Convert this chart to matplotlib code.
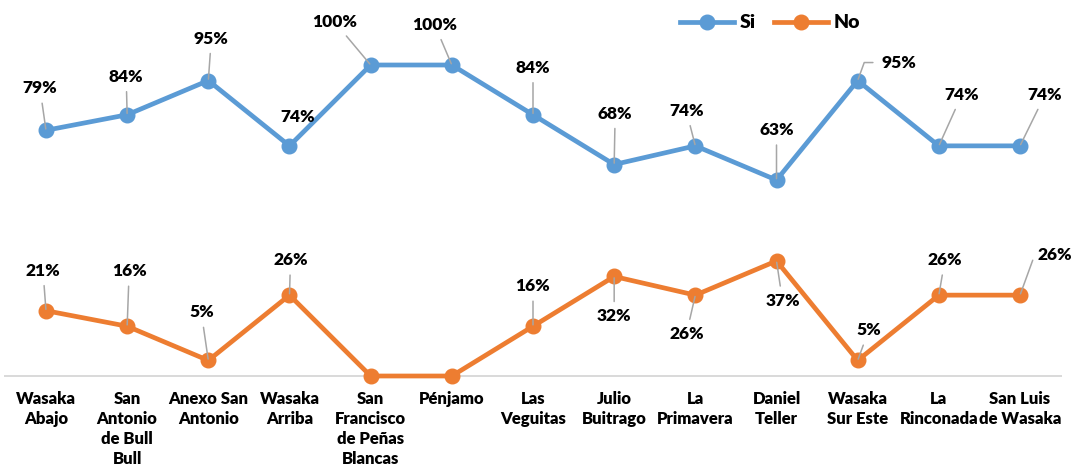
import matplotlib.pyplot as plt
import numpy as np

categorias = ["Wasaka\nAbajo", "San\nAntonio\nde Bull\nBull", "Anexo San\nAntonio", "Wasaka\nArriba",
              "San\nFrancisco\nde Peñas\nBlancas", "Pénjamo", "Las\nVeguitas", "Julio\nBuitrago",
              "La\nPrimavera", "Daniel\nTeller", "Wasaka\nSur Este", "La\nRinconada", "San Luis\nde Wasaka"]
si = [79, 84, 95, 74, 100, 100, 84, 68, 74, 63, 95, 74, 74]
no = [21, 16, 5, 26, 0, 0, 16, 32, 26, 37, 5, 26, 26]

# desplazamiento de las etiquetas en pixeles (dx, dy hacia abajo) y si llevan linea guia
off_si = [(-6, -42, 1), (-1, -38, 1), (3, -42, 1), (8, -29, 0), (-36, -43, 1), (-17, -40, 1), (0, -47, 1),
          (1, -51, 1), (-9, -35, 1), (0, -50, 1), (41, -18, 2), (23, -51, 1), (25, -51, 1)]
off_no = [(-3, -40, 1), (2, -55, 1), (-7, -48, 1), (1, -35, 1), None, None, (0, -40, 1),
          (0, 40, 1), (-9, 39, 1), (6, 40, 1), (11, -30, 1), (6, -35, 1), (35, -40, 2)]

azul = '#5B9BD5'
naranja = '#ED7D31'
plt.rcParams['font.family'] = ['Lato', 'DejaVu Sans']
plt.rcParams['font.weight'] = 'bold'

fig = plt.figure(figsize=(10.78, 4.70), dpi=100)
ax = fig.add_axes([5.4 / 1078, 94 / 470, 1055.2 / 1078, 311 / 470])
x = np.arange(len(categorias))

ax.plot(x, si, color=azul, lw=3.4, marker='o', ms=10.5, label='Si', clip_on=False, zorder=3)
ax.plot(x, no, color=naranja, lw=3.4, marker='o', ms=10.5, label='No', clip_on=False, zorder=3)

def etiquetas(vals, offs):
    for i, v in enumerate(vals):
        o = offs[i]
        if o is None:
            continue
        dx, dy, guia = o
        props = None
        if guia == 1:
            props = dict(arrowstyle='-', color='#A6A6A6', lw=1.1, shrinkA=3, shrinkB=1)
        elif guia == 2:
            props = dict(arrowstyle='-', color='#A6A6A6', lw=1.1, shrinkA=4, shrinkB=1,
                         connectionstyle='angle,angleA=0,angleB=70,rad=0')
        ax.annotate(f'{v}%', (i, v), xytext=(dx * 0.72, -dy * 0.72), textcoords='offset points',
                    ha='center', va='center', fontsize=12.5, fontweight='heavy', color='black',
                    arrowprops=props, zorder=4, annotation_clip=False)

etiquetas(si, off_si)
etiquetas(no, off_no)

ax.set_xlim(-0.5, len(categorias) - 0.5)
ax.set_ylim(0, 100)
ax.set_xticks(x)
ax.set_xticklabels(categorias, fontsize=12, fontweight='heavy', linespacing=1.3)
ax.tick_params(axis='x', length=0, pad=11)
ax.set_yticks([])
for s in ['top', 'right', 'left']:
    ax.spines[s].set_visible(False)
ax.spines['bottom'].set_color('#D9D9D9')
ax.spines['bottom'].set_linewidth(1.4)
ax.spines['bottom'].set_zorder(1)

fig.legend(loc='center', bbox_to_anchor=(770 / 1078, 1 - 23 / 470), ncol=2, frameon=False,
           prop={'size': 14, 'weight': 'heavy'}, handlelength=2.8, columnspacing=0.9, handletextpad=0.3)

plt.savefig('out.png', dpi=100)
